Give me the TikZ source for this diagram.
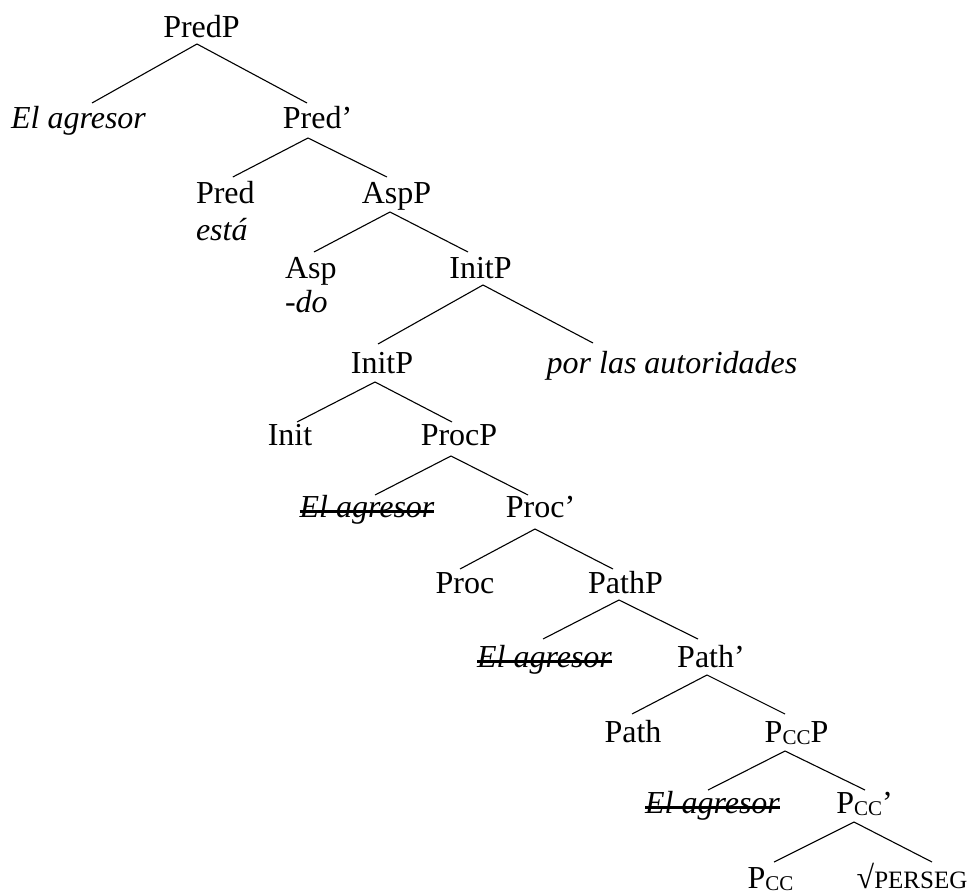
\documentclass[tikz,border=0pt]{standalone}
\usepackage{fontspec}
\setmainfont{Liberation Serif}
\begin{document}
\begin{tikzpicture}[x=1pt,y=-1pt,
  lbl/.style={inner sep=0pt,outer sep=0pt,anchor=base,font=\fontsize{32}{38}\selectfont},
  lblw/.style={lbl,anchor=base west},
  it/.style={font=\fontsize{32}{38}\selectfont\itshape},
  edge/.style={line width=1.1pt,black},
  strike/.style={line width=2.6pt,black}]
\useasboundingbox (0,0) rectangle (971,894);
\newcommand{\cc}{\raisebox{-2pt}{\fontsize{21}{21}\selectfont CC}}
% nodes
\node[lbl] (predp) at (201.5,37) {PredP};
\node[lbl,it] (agr0) at (78.5,128) {El agresor};
\node[lbl] (predbar) at (317.5,128) {Pred’};
\node[lblw] (pred) at (196,203) {Pred};
\node[lblw,it] (esta) at (196,240) {está};
\node[lbl] (aspp) at (396.5,203) {AspP};
\node[lblw] (asp) at (285,278) {Asp};
\node[lblw,it] (do) at (285,312) {-do};
\node[lbl] (initp) at (480.5,278) {InitP};
\node[lbl] (initpb) at (382,373) {InitP};
\node[lbl,it] (por) at (672,373) {por las autoridades};
\node[lbl] (init) at (290,445) {Init};
\node[lbl] (procp) at (459,445) {ProcP};
\node[lbl,it] (agr1) at (367,517) {El agresor};
\node[lbl] (procbar) at (540.5,517) {Proc’};
\node[lbl] (proc) at (465,593) {Proc};
\node[lbl] (pathp) at (625.5,593) {PathP};
\node[lbl,it] (agr2) at (544.5,667) {El agresor};
\node[lbl] (pathbar) at (711,667) {Path’};
\node[lbl] (path) at (633,742) {Path};
\node[lbl] (pccp) at (796.5,742) {P\cc P};
\node[lbl,it] (agr3) at (712.5,813) {El agresor};
\node[lbl] (pccbar) at (864.5,813) {P\cc’};
\node[lbl] (pcc) at (770.5,888) {P\cc};
\node[lbl] (perseg) at (912,888) {√{\fontsize{25}{25}\selectfont PERSEG}};
% strikes
\foreach \n in {agr1,agr2,agr3}
  \draw[strike] ([yshift=5.5pt]\n.base west) -- ([yshift=5.5pt]\n.base east);
% edges
\draw[edge] ([shift={(13.5,-25)}]agr0.base) -- ([shift={(-4.5,7)}]predp.base) -- ([shift={(-10.5,-25)}]predbar.base);
\draw[edge] ([shift={(7.5,-26)}]pred.base) -- ([shift={(-9.5,10)}]predbar.base) -- ([shift={(-9.5,-26)}]aspp.base);
\draw[edge] ([shift={(3.2,-26)}]asp.base) -- ([shift={(-6.5,9)}]aspp.base) -- ([shift={(-12.5,-26)}]initp.base);
\draw[edge] ([shift={(-4,-29)}]initpb.base) -- ([shift={(2.5,7)}]initp.base) -- ([shift={(-79,-30)}]por.base);
\draw[edge] ([shift={(7,-23)}]init.base) -- ([shift={(-7,9)}]initpb.base) -- ([shift={(-7,-23)}]procp.base);
\draw[edge] ([shift={(8,-22)}]agr1.base) -- ([shift={(-8,11)}]procp.base) -- ([shift={(-12.5,-22)}]procbar.base);
\draw[edge] ([shift={(-5,-24)}]proc.base) -- ([shift={(-5.5,12)}]procbar.base) -- ([shift={(-12.5,-24)}]pathp.base);
\draw[edge] ([shift={(-1.5,-28)}]agr2.base) -- ([shift={(-6.5,7)}]pathp.base) -- ([shift={(-13,-28)}]pathbar.base);
\draw[edge] ([shift={(-1,-28)}]path.base) -- ([shift={(-4,8)}]pathbar.base) -- ([shift={(-11.5,-28)}]pccp.base);
\draw[edge] ([shift={(-4.5,-23)}]agr3.base) -- ([shift={(-11.5,9)}]pccp.base) -- ([shift={(0.5,-23)}]pccbar.base);
\draw[edge] ([shift={(3.5,-26)}]pcc.base) -- ([shift={(-10.5,9)}]pccbar.base) -- ([shift={(20,-26)}]perseg.base);
\end{tikzpicture}
\end{document}
